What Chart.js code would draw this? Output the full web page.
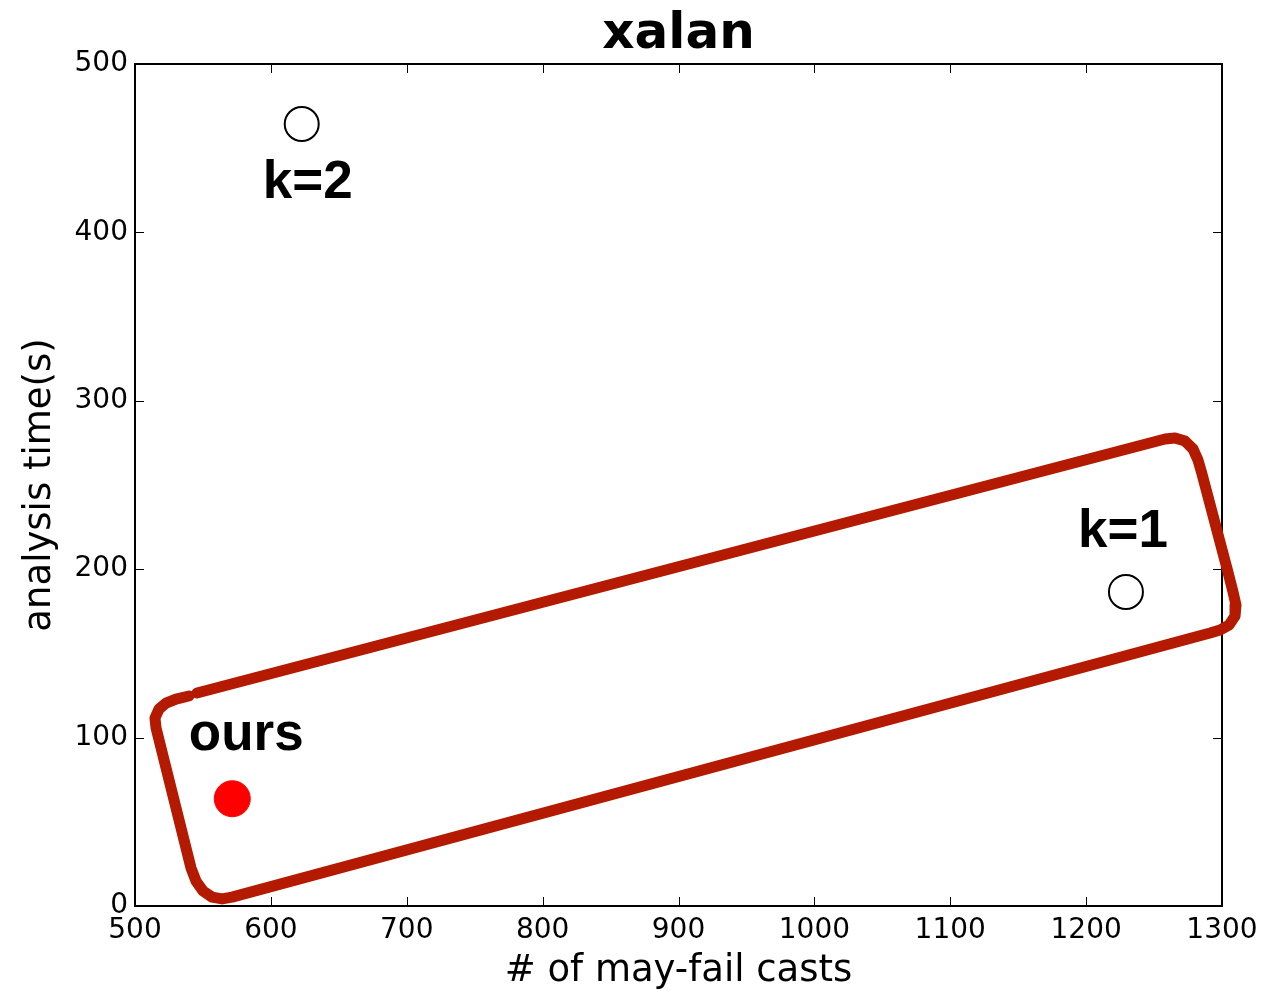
<!DOCTYPE html>
<html>
<head>
<meta charset="utf-8">
<script src="https://cdn.jsdelivr.net/npm/chart.js@4.4.1/dist/chart.umd.min.js"></script>
<style>
  html, body { margin: 0; padding: 0; background: #fff; }
</style>
</head>
<body>
<canvas id="chartXalan" width="1283" height="992"></canvas>
<script>
// measured points
const oursCasts = [571.6];
const oursTime = [63.7];
const kCasts = [622.7, 1229.3];
const kTime = [464.4, 186.5];
const kLabels = ["k=2", "k=1"];

// hand drawn loop around the "good" region
const loopCasts = [545.6, 1258.1, 1265.4, 1272.8, 1278.7, 1282.3, 1285.3, 1304.4, 1308.1, 1310.3,
  1309.6, 1305.2, 1298.6, 1291.2, 571.4, 564.1, 556.7, 550.1, 544.9, 541.2,
  515.5, 514.7, 517.7, 522.8, 530.2, 539.7];
const loopTime = [126.5, 277.3, 277.9, 276.1, 271.4, 264.8, 256.5, 198.3, 186.5, 178.7,
  172.2, 166.9, 163.9, 162.1, 5.3, 4.2, 5.3, 8.9, 14.8, 22.6,
  105.7, 111.6, 117.0, 120.5, 122.9, 124.7];

const xTicks = [500, 600, 700, 800, 900, 1000, 1100, 1200, 1300];
const yTicks = [0, 100, 200, 300, 400, 500];

const toPoints = (xs, ys) => xs.map((x, i) => ({ x: x, y: ys[i] }));

// box + inward ticks, matplotlib style
const frame = {
  id: "frame",
  beforeDatasetsDraw(chart) {
    const { ctx, chartArea: a, scales } = chart;
    ctx.save();
    ctx.strokeStyle = "#000";
    ctx.lineWidth = 1;
    const len = 9;
    xTicks.forEach(v => {
      const px = Math.round(scales.x.getPixelForValue(v)) + 0.5;
      ctx.beginPath();
      ctx.moveTo(px, a.bottom); ctx.lineTo(px, a.bottom - len);
      ctx.moveTo(px, a.top); ctx.lineTo(px, a.top + len);
      ctx.stroke();
    });
    yTicks.forEach(v => {
      const py = Math.round(scales.y.getPixelForValue(v)) + 0.5;
      ctx.beginPath();
      ctx.moveTo(a.left, py); ctx.lineTo(a.left + len, py);
      ctx.moveTo(a.right, py); ctx.lineTo(a.right - len, py);
      ctx.stroke();
    });
    ctx.lineWidth = 2;
    ctx.strokeRect(a.left, a.top, a.right - a.left, a.bottom - a.top);
    ctx.restore();
  }
};

// bold text next to the points
const pointText = {
  id: "pointText",
  afterDatasetsDraw(chart) {
    const { ctx } = chart;
    ctx.save();
    ctx.font = "bold 53px 'Liberation Sans', Arial, sans-serif";
    ctx.fillStyle = "#000";
    ctx.textAlign = "center";
    ctx.textBaseline = "alphabetic";
    const ours = chart.getDatasetMeta(0).data[0];
    ctx.fillText("ours", ours.x + 14, ours.y - 49);
    const ks = chart.getDatasetMeta(1).data;
    ctx.fillText(kLabels[0], ks[0].x + 6, ks[0].y + 74);
    ctx.fillText(kLabels[1], ks[1].x - 3, ks[1].y - 45);
    ctx.restore();
  }
};

new Chart(document.getElementById("chartXalan"), {
  type: "scatter",
  data: {
    datasets: [
      {
        label: "ours",
        data: toPoints(oursCasts, oursTime),
        pointRadius: 18,
        pointBackgroundColor: "#ff0000",
        pointBorderColor: "#ff0000",
        pointBorderWidth: 1,
        order: 1,
      },
      {
        label: "k",
        data: toPoints(kCasts, kTime),
        pointRadius: 17,
        pointBackgroundColor: "rgba(255,255,255,0)",
        pointBorderColor: "#000",
        pointBorderWidth: 2,
        order: 1,
      },
      {
        label: "loop",
        data: toPoints(loopCasts, loopTime),
        showLine: true,
        pointRadius: 0,
        borderColor: "#b41a00",
        borderWidth: 11,
        borderJoinStyle: "round",
        borderCapStyle: "round",
        tension: 0,
        clip: false,
        order: 0,
      },
    ],
  },
  options: {
    responsive: false,
    animation: false,
    layout: { padding: { top: 0, right: 61, bottom: 0, left: 0 } },
    plugins: {
      legend: { display: false },
      tooltip: { enabled: false },
      title: {
        display: true,
        text: "xalan",
        fullSize: false,
        color: "#000",
        font: { family: "'DejaVu Sans'", size: 50, weight: "bold", lineHeight: 1.0 },
        padding: { top: 10, bottom: 4 },
      },
    },
    scales: {
      x: {
        type: "linear",
        min: 500,
        max: 1300,
        afterFit: s => { s.height = 86; },
        afterBuildTicks: s => { s.ticks = xTicks.map(v => ({ value: v })); },
        grid: { display: false, drawTicks: false },
        border: { display: false },
        ticks: {
          padding: 8,
          color: "#000",
          maxRotation: 0,
          autoSkip: false,
          font: { family: "'DejaVu Sans'", size: 28 },
          callback: v => String(v),
        },
        title: {
          display: true,
          text: "# of may-fail casts",
          color: "#000",
          font: { family: "'DejaVu Sans'", size: 37, lineHeight: 1.2 },
          padding: { top: 0, bottom: -2 },
        },
      },
      y: {
        type: "linear",
        min: 0,
        max: 500,
        afterFit: s => { s.width = 135; },
        afterBuildTicks: s => { s.ticks = yTicks.map(v => ({ value: v })); },
        grid: { display: false, drawTicks: false },
        border: { display: false },
        ticks: {
          padding: 7,
          color: "#000",
          font: { family: "'DejaVu Sans'", size: 28 },
          callback: v => String(v),
        },
        title: {
          display: true,
          text: "analysis time(s)",
          color: "#000",
          font: { family: "'DejaVu Sans'", size: 37, lineHeight: 1.2 },
          padding: { top: 18, bottom: 0 },
        },
      },
    },
  },
  plugins: [frame, pointText],
});
</script>
</body>
</html>
